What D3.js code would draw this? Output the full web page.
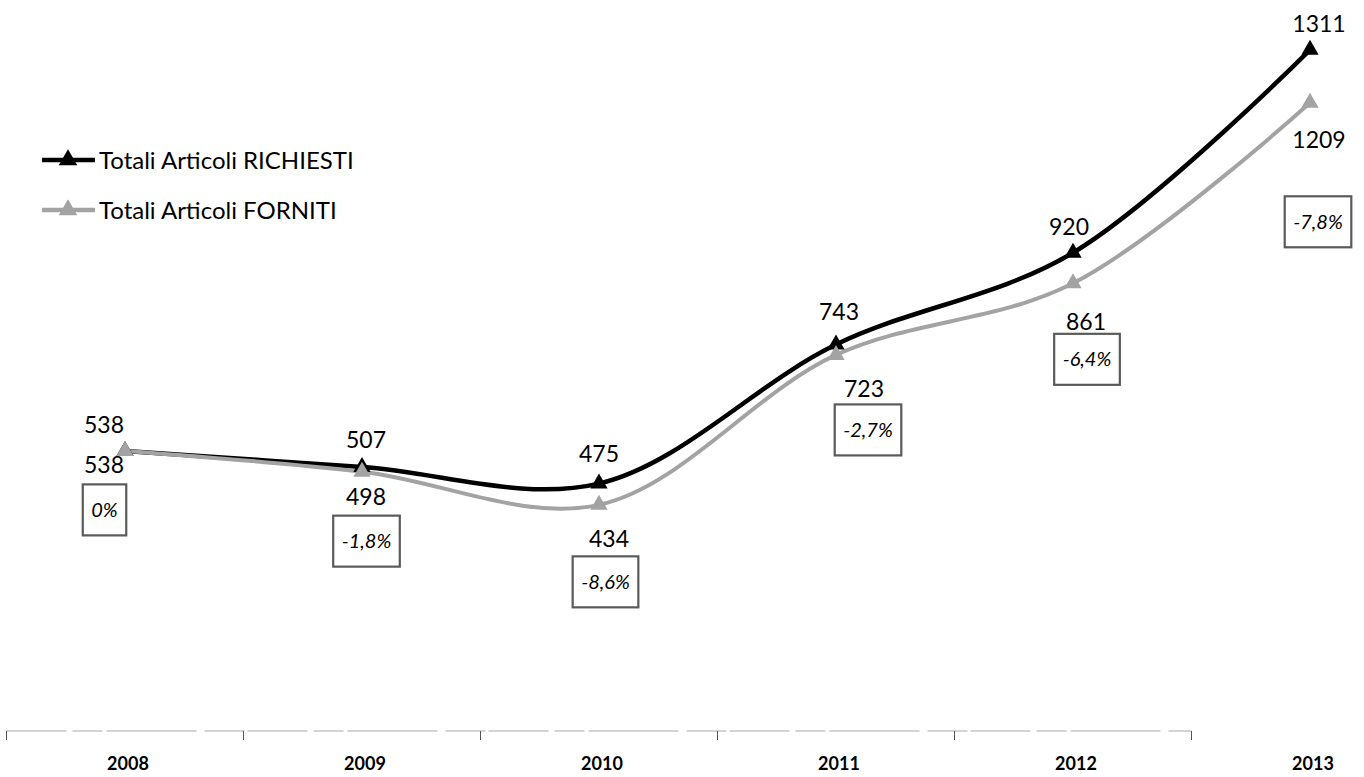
<!DOCTYPE html>
<html>
<head>
<meta charset="utf-8">
<script src="https://cdn.jsdelivr.net/npm/d3@7"></script>
<style>
  html, body { margin: 0; padding: 0; background: #fff; }
  svg { display: block; }
  text { font-family: Lato, "Open Sans", sans-serif; fill: #000; }
</style>
</head>
<body>
<svg id="chart" width="1364" height="777"></svg>
<script>
// Articoli richiesti / forniti per anno
const years = ["2008", "2009", "2010", "2011", "2012", "2013"];
const richiesti = [538, 507, 475, 743, 920, 1311];
const forniti = [538, 498, 434, 723, 861, 1209];
const seriesNames = ["Totali Articoli RICHIESTI", "Totali Articoli FORNITI"];

// Label placement (dx, dy from the point) tuned per year to avoid overlaps
const offRich = [[-21, -18], [4, -19], [0, -22], [3, -25], [-4, -18], [9, -18]];
const offForn = [[-21, 22], [4, 33], [10, 42], [28, 42], [13, 47], [9, 45]];
const offPct  = [[-20.5, 59], [4.5, 69.5], [6.5, 77], [32, 75], [14, 76], [8, 119]];

const svg = d3.select("#chart");

const x = d3.scaleBand().domain(years).range([6.5, 1428.5]).padding(0);
const cx = d => x(d) + x.bandwidth() / 2;
const y = d3.scaleLinear().domain([0, 1400]).range([730, 3.7]);

// Category axis: baseline with ticks at band boundaries
const axisY = 731;
const axisG = svg.append("g");
axisG.append("line")
  .attr("x1", x(years[0])).attr("x2", x(years[years.length - 1]))
  .attr("y1", axisY).attr("y2", axisY)
  .attr("stroke", "#aaa").attr("stroke-width", 1.2)
  .attr("stroke-dasharray", "60 6 30 4 90 8 40 3");
axisG.selectAll("line.tick").data(years).enter().append("line")
  .attr("class", "tick")
  .attr("x1", d => x(d)).attr("x2", d => x(d))
  .attr("y1", axisY).attr("y2", axisY + 9)
  .attr("stroke", "#555").attr("stroke-width", 1);
axisG.selectAll("text.year").data(years).enter().append("text")
  .attr("class", "year")
  .attr("x", d => cx(d) + 3).attr("y", 770)
  .attr("text-anchor", "middle")
  .attr("font-size", 18).attr("font-weight", "bold")
  .text(d => d);

const line = d3.line()
  .x((d, i) => cx(years[i]))
  .y(d => y(d))
  .curve(d3.curveCatmullRom.alpha(0.5));

const triangle = d3.symbol(d3.symbolTriangle, 130);

const styles = [
  { data: richiesti, color: "#000", width: 4.5 },
  { data: forniti, color: "#a3a3a3", width: 4 }
];

// Lines and markers: requested first, supplied drawn on top
[0, 1].forEach(k => {
  const s = styles[k];
  svg.append("path").datum(s.data)
    .attr("d", line)
    .attr("fill", "none")
    .attr("stroke", s.color)
    .attr("stroke-width", s.width)
    .attr("stroke-linejoin", "round")
    .attr("stroke-linecap", "round");
});
[0, 1].forEach(k => {
  const s = styles[k];
  svg.append("g").selectAll("path").data(s.data).enter().append("path")
    .attr("d", triangle)
    .attr("transform", (d, i) => `translate(${cx(years[i])},${y(d)})`)
    .attr("fill", s.color);
});

// Value labels
svg.append("g").selectAll("text").data(richiesti).enter().append("text")
  .attr("x", (d, i) => cx(years[i]) + offRich[i][0])
  .attr("y", (d, i) => y(d) + offRich[i][1])
  .attr("text-anchor", "middle").attr("font-size", 23)
  .text(d => d);
svg.append("g").selectAll("text").data(forniti).enter().append("text")
  .attr("x", (d, i) => cx(years[i]) + offForn[i][0])
  .attr("y", (d, i) => y(d) + offForn[i][1])
  .attr("text-anchor", "middle").attr("font-size", 23)
  .text(d => d);

// Percentage gap boxes
const pct = richiesti.map((r, i) => (forniti[i] - r) / r * 100);
const fmtPct = v => {
  const r = Math.round(v * 10) / 10;
  if (r === 0) return "0%";
  return r.toFixed(1).replace(".", ",") + "%";
};
const pctG = svg.append("g");
pct.forEach((v, i) => {
  const px = cx(years[i]) + offPct[i][0];
  const py = y(forniti[i]) + offPct[i][1];
  const g = pctG.append("g");
  const t = g.append("text")
    .attr("x", px).attr("y", py + 7)
    .attr("text-anchor", "middle")
    .attr("font-size", 20).attr("font-style", "italic")
    .text(fmtPct(v));
  const w = t.node().getComputedTextLength() + 17;
  g.insert("rect", "text")
    .attr("x", px - w / 2).attr("y", py - 25.5)
    .attr("width", w).attr("height", 51)
    .attr("fill", "#fff")
    .attr("stroke", "#5a5a5a").attr("stroke-width", 2.2);
});

// Legend
const legend = svg.append("g");
seriesNames.forEach((name, k) => {
  const ly = 160 + k * 50;
  const s = styles[k];
  legend.append("line")
    .attr("x1", 42).attr("x2", 95).attr("y1", ly).attr("y2", ly)
    .attr("stroke", s.color).attr("stroke-width", 4.5);
  legend.append("path")
    .attr("d", d3.symbol(d3.symbolTriangle, 150))
    .attr("transform", `translate(68,${ly})`)
    .attr("fill", s.color);
  legend.append("text")
    .attr("x", 99).attr("y", ly + 9)
    .attr("font-size", 24)
    .text(name);
});
</script>
</body>
</html>
